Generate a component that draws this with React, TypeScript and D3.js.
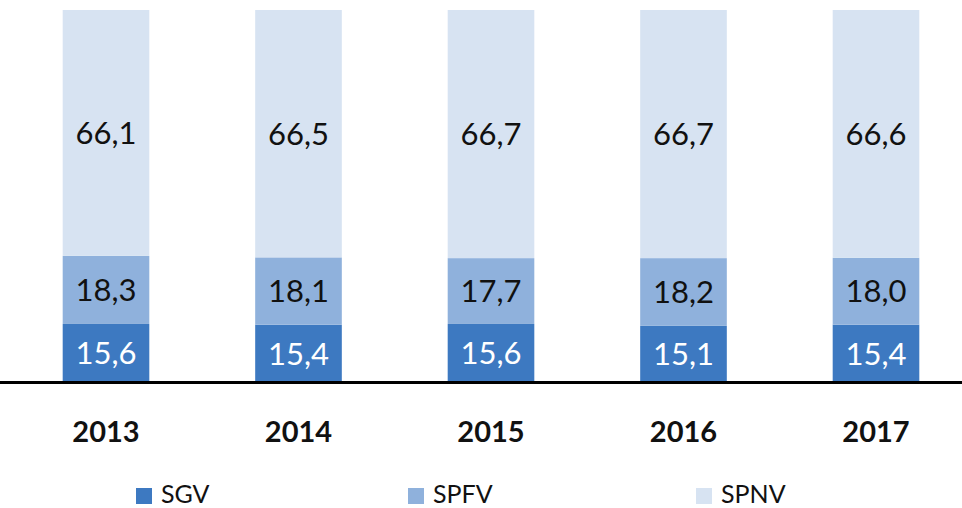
import React from 'react';
import * as d3 from 'd3';

const years = ['2013', '2014', '2015', '2016', '2017'];
const series = ['SGV', 'SPFV', 'SPNV'];
const sgv = [15.6, 15.4, 15.6, 15.1, 15.4];
const spfv = [18.3, 18.1, 17.7, 18.2, 18.0];
const spnv = [66.1, 66.5, 66.7, 66.7, 66.6];

const colors = ['#3d79c1', '#8fb1dc', '#d7e3f2'];
const labelColors = ['#ffffff', '#111111', '#111111'];

const width = 962;
const height = 508;
const font = 'Lato, "Open Sans", sans-serif';

export default function App() {
  const rows = years.map((year, i) => ({ year, SGV: sgv[i], SPFV: spfv[i], SPNV: spnv[i] }));
  const stacked = d3.stack<any>().keys(series)(rows);

  const x = d3.scaleBand().domain(years).range([9.75, 972.25]).paddingInner(0.55).paddingOuter(0.275);
  const y = d3.scaleLinear().domain([0, 100]).range([382, 10]);

  const fmt = (v: number) => v.toFixed(1).replace('.', ',');

  const legendX = [136, 408, 696];

  return (
    <svg width={width} height={height} style={{ position: 'absolute', left: 0, top: 0 }}>
      <rect width={width} height={height} fill="#ffffff" />
      {stacked.map((layer, si) => (
        <g key={series[si]}>
          {layer.map((d, i) => (
            <g key={years[i]}>
              <rect
                x={x(years[i])}
                y={y(d[1])}
                width={x.bandwidth()}
                height={y(d[0]) - y(d[1])}
                fill={colors[si]}
              />
              <text
                x={(x(years[i]) as number) + x.bandwidth() / 2}
                y={(y(d[0]) + y(d[1])) / 2}
                dy="0.36em"
                textAnchor="middle"
                fontFamily={font}
                fontSize={31}
                fill={labelColors[si]}
              >
                {fmt(d[1] - d[0])}
              </text>
            </g>
          ))}
        </g>
      ))}
      <line x1={0} x2={width} y1={382.5} y2={382.5} stroke="#000" strokeWidth={3} />
      {years.map((yr) => (
        <text
          key={yr}
          x={(x(yr) as number) + x.bandwidth() / 2}
          y={432}
          dy="0.36em"
          textAnchor="middle"
          fontFamily={font}
          fontWeight="bold"
          fontSize={29}
          fill="#111"
        >
          {yr}
        </text>
      ))}
      {series.map((s, i) => (
        <g key={s} transform={`translate(${legendX[i]},494)`}>
          <rect x={0} y={-6} width={16} height={16} fill={colors[i]} />
          <text x={25} y={0} dy="0.36em" fontFamily={font} fontSize={25} fill="#111">
            {s}
          </text>
        </g>
      ))}
    </svg>
  );
}
